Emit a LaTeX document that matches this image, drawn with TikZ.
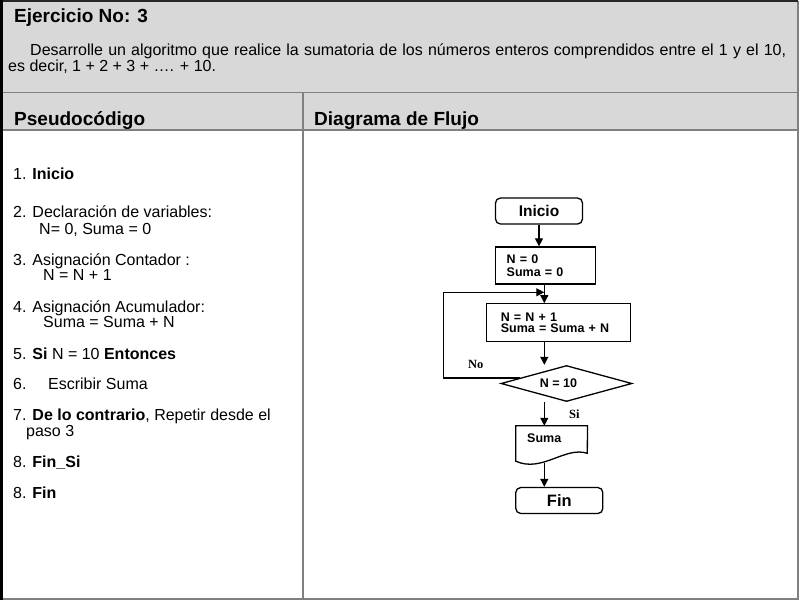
\documentclass[tikz,border=0pt]{standalone}
\usepackage{fontspec}
\setmainfont{Liberation Sans}
\newfontfamily\timesf{Liberation Serif}
\usetikzlibrary{arrows.meta,shapes.geometric,calc}
\definecolor{hdr}{RGB}{216,216,216}
\definecolor{rulec}{RGB}{128,128,128}
\begin{document}
\begin{tikzpicture}[x=1pt,y=-1pt,
  txt/.style={anchor=base west,inner sep=0pt,font=\fontsize{16}{19}\selectfont},
  ttl/.style={anchor=base west,inner sep=0pt,font=\fontsize{19}{22}\selectfont\bfseries},
  term/.style={draw,line width=1.3pt,rounded corners=5pt,minimum width=87pt,minimum height=26pt,inner sep=0pt},
  procbox/.style={draw,line width=1.3pt,inner ysep=0pt,align=left,minimum height=37pt},
  flab/.style={anchor=base west,inner sep=0pt,font=\fontsize{12.5}{14}\selectfont\bfseries},
  yn/.style={anchor=base west,inner sep=0pt,font=\timesf\fontsize{12.5}{14}\selectfont\bfseries},
  arr/.style={line width=1.2pt,-{Triangle[length=8pt,width=8pt]}},
  frame/.style={line width=1.5pt,draw=rulec}]
\useasboundingbox (0,0) rectangle (800,600);
\fill[white] (0,0) rectangle (800,600);
% header band
\fill[hdr] (2,1) rectangle (797,130);
\draw[frame] (3,92.5) -- (797,92.5);
\draw[frame] (3,130) -- (797,130);
\draw[frame,line width=2pt] (303,92.5) -- (303,598);
\draw[frame,line width=2pt] (797.5,1) -- (797.5,598.5) -- (2,598.5);
\draw[black!85,line width=2pt] (0,1) -- (798,1);
\draw[black,line width=3pt] (1.5,0) -- (1.5,600);
% titles
\node[ttl] (t1) at (14,22) {Ejercicio No: 3};
\node[txt,anchor=base west] (d1) at (30,55) {\makebox[756pt][s]{Desarrolle un algoritmo que realice la sumatoria de los números enteros comprendidos entre el 1 y el 10,}};
\node[txt] (d2) at (8,71) {es decir, 1 + 2 + 3 + …. + 10.};
\node[ttl] (h1) at (14,125.5) {Pseudocódigo};
\node[ttl] (h2) at (314,125.5) {Diagrama de Flujo};
% pseudocode
\node[txt] (p1) at (13,179.5) {1. \textbf{Inicio}};
\node[txt] (p2) at (13,217.5) {2. Declaración de variables:};
\node[txt] (p2b) at (39,234) {N= 0, Suma = 0};
\node[txt] (p3) at (13,265.5) {3. Asignación Contador :};
\node[txt] (p3b) at (43,280.5) {N = N + 1};
\node[txt] (p4) at (13,312) {4. Asignación Acumulador:};
\node[txt] (p4b) at (43,327) {Suma = Suma + N};
\node[txt] (p5) at (13,359) {5. \textbf{Si} N = 10 \textbf{Entonces}};
\node[txt] (p6) at (13,389) {\makebox[35pt][l]{6.}Escribir Suma};
\node[txt] (p7) at (13,420.5) {7. \textbf{De lo contrario}, Repetir desde el};
\node[txt] (p7b) at (26,436) {paso 3};
\node[txt] (p8) at (13,467.5) {8. \textbf{Fin\_Si}};
\node[txt] (p9) at (13,498) {8. \textbf{Fin}};
% flowchart
\node[term,font=\fontsize{15.5}{18}\selectfont\bfseries] (ini) at (539,211) {Inicio};
\node[procbox,inner xsep=11pt,text width=78pt,font=\fontsize{12.5}{13.5}\selectfont\bfseries] (init) at (545.7,265.5) {N = 0\\Suma = 0};
\node[procbox,inner xsep=14pt,text width=116pt,minimum height=38pt,font=\fontsize{12.5}{11}\selectfont\bfseries] (proc) at (558.8,322.8) {N = N + 1\\Suma = Suma + N};
\node[diamond,draw,line width=1.3pt,inner sep=0pt,minimum width=131pt,minimum height=36pt] (dia) at (566.5,383.5) {};
\node[flab,anchor=base] (diat) at (558.5,387.5) {N = 10};
\node[inner sep=0pt,minimum width=71.3pt,minimum height=35pt] (doc) at (551.65,443.5) {};
\draw[line width=1.3pt] (doc.north west) -- (doc.north east) -- (587.3,453.3)
  .. controls (565,446) and (542,473) .. (doc.south west) -- cycle;
\node[flab] (doct) at (527,442.5) {Suma};
\node[term,font=\fontsize{16.5}{19}\selectfont\bfseries] (fin) at (559.3,500.5) {Fin};
\node[yn] (no) at (468,368) {No};
\node[yn] (si) at (569,418) {Si};
% connectors
\coordinate (cx) at (544.3,0);
\coordinate (lp) at ($(dia.west)!0.3!(dia.north)$);
\coordinate (lc) at (443.3,292.3);
\draw[arr] (ini.south) -- (ini.south |- init.north);
\draw[arr] (cx |- init.south) -- (cx |- proc.north);
\draw[arr] (cx |- proc.south) -- (cx |- dia.north);
\draw[arr] (lp) -- (lp -| lc) -- (lc) -- (cx |- lc);
\draw[arr] (cx |- dia.south) -- (cx |- doc.north);
\draw[arr] (544.3,463) -- (cx |- fin.north);
\end{tikzpicture}
\end{document}
